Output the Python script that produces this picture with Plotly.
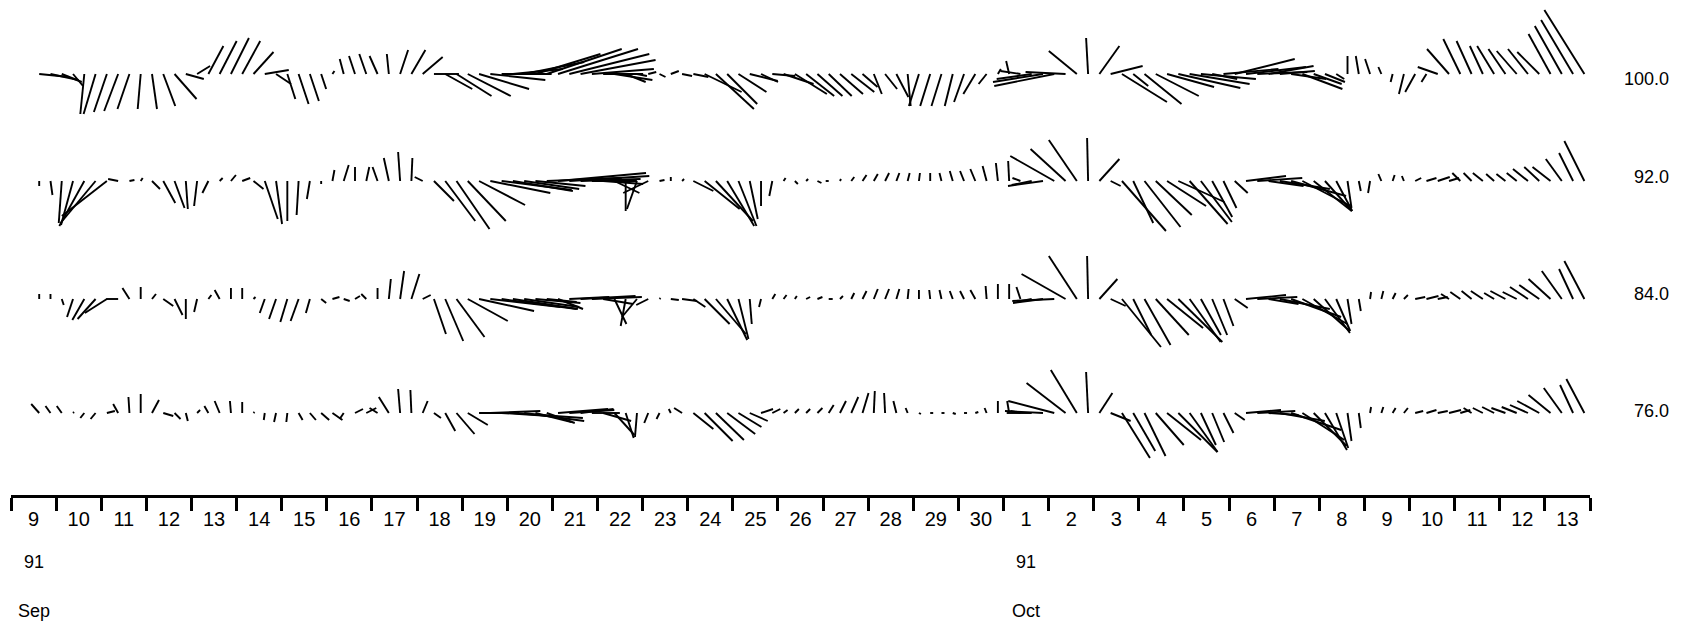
import plotly.graph_objects as go

# ---------------- data ----------------
# 6-hourly current sticks, 1991-09-09 03:00 .. 1991-10-13 21:00 (140 samples)
# u = east component, v = north component (cm/s); None = no record
depths = ["100.0", "92.0", "84.0", "76.0"]
sep_days = list(range(9, 31))
oct_days = list(range(1, 14))
day_labels = [str(d) for d in sep_days] + [str(d) for d in oct_days]
year_label = "91"
month_labels = ["Sep", "Oct"]

u100 = [None, None, 30, 28, 20, 10, -4, -12, -13, -14, -12, -3, 5, 12, 22, 18, 13, 15, 17, 18,
        18, 20, 24, 15, 8, 10, 9, 5, 2, -4, -6, -7, -8, -2, 8, 14, 20, 25, 27, 35,
        43, 50, 55, 50, 50, 60, 65, 75, 80, 80, 75, 62, 40, 38, 20, 10, 8, 6, 8, 10,
        15, 37, 38, 30, 28, 28, 17, 23, 30, 32, 28, 25, 23, 23, 23, 15, 8, 12, 12, 3,
        -10, -10, -10, -8, -10, -12, -8, 3, -3, -20, -35, -50, -60, -40, -28, -2, 20, 32, 45, 15,
        37, 43, 47, 62, 60, 55, 25, 55, 60, 60, 50, 45, 35, 35, 40, 28, 20, 8, 0, -3,
        -5, -3, -2, -5, -10, -5, -20, -22, -17, -15, -13, -17, -17, -20, -20, -22, -22, -27, -32, -40]
v100 = [None, None, -3, -6, -8, -12, -40, -40, -38, -37, -35, -35, -35, -32, -25, -5, 8, 28, 33, 36,
        33, 22, 4, -10, -25, -30, -27, -15, 3, 15, 18, 20, 18, 20, 24, 24, 17, 0, -15, -22,
        -22, -15, -6, 0, 5, 12, 20, 25, 25, 20, 14, 5, 0, -6, -8, -2, 2, -3, 3, -2,
        -3, -18, -35, -30, -18, -7, -8, -2, -10, -20, -22, -22, -22, -20, -18, -13, -20, -15, -23, -32,
        -32, -32, -32, -32, -28, -20, -10, 5, 13, 3, -5, -8, -12, 2, 23, 36, 28, 8, -28, -12,
        -30, -22, -13, -14, -10, -5, -5, 5, 15, 7, 2, 8, 3, -5, -15, -10, -8, -5, 18, 18,
        15, 7, -8, -20, -18, -8, 7, 25, 35, 33, 28, 28, 25, 23, 25, 22, 40, 48, 54, 64]

u92 = [None, None, 0, 2, -3, -12, -25, -35, -45, -10, 5, 2, 8, 12, 10, 2, -3, -6, 3, 5,
       8, 10, 13, 6, 0, -2, -3, 0, 2, 5, 0, 3, -5, -5, -2, 1, -8, 20, 30, 33,
       38, 46, 60, 70, 60, 55, 50, 75, 88, 80, 60, 45, 40, 25, 0, -10, -25, 5, 0, 2,
       20, 35, 37, 27, 18, 8, 0, -3, 2, 3, 2, 4, -3, 1, 3, 4, 4, 4, 3, 2,
       1, 0, -2, -3, -4, -5, -4, -2, -1, -8, -20, -35, -44, -35, -28, -1, 20, 10, 44, 20,
       36, 36, 39, 46, 38, 31, 20, 13, 13, 40, 45, 35, 50, 55, 48, 38, 27, 16, 4, 2,
       -2, -3, 2, -2, 6, 10, 12, 10, -8, -8, -10, -8, -9, -10, -15, -15, -18, -16, -14, -20]
v92 = [None, None, -5, -14, -42, -44, -45, -42, -35, 2, 1, 3, -8, -22, -27, -28, -25, -12, 3, 6,
       3, -8, -38, -43, -40, -34, -18, -3, 11, 16, 14, 14, 14, 23, 29, 23, 4, -20, -40, -48,
       -40, -24, -12, -9, -10, -8, -5, 3, 8, 5, 2, 0, -3, -12, -30, -28, -12, 1, 4, 2,
       -10, -28, -40, -45, -45, -38, -25, -15, 3, -3, 2, -2, 0, 2, 4, 6, 7, 8, 8, 8,
       8, 8, 8, 10, 10, 12, 15, 18, 20, 3, -4, -5, 25, 32, 41, 43, 22, -5, -50, -42,
       -46, -34, -25, -21, -43, -41, -36, -27, -12, 5, 3, -5, -8, -15, -25, -30, -30, -30, -27, -10,
       -12, 7, 6, 5, 3, 3, 4, 3, 8, 8, 8, 7, 7, 8, 12, 14, 14, 22, 28, 40]

u84 = [None, None, 0, 0, 2, -6, -12, -18, -22, -12, -7, 0, 4, 10, 8, 0, -3, 3, -5, 0,
       0, 2, -5, -7, -7, -8, -4, 5, 7, 6, 5, -5, 0, 2, 4, 8, 8, 12, 18, 28,
       40, 55, 70, 75, 65, 55, 45, 30, 25, 40, 55, 50, 30, 12, -5, -15, -12, 1, 8, 15,
       12, 25, 30, 20, 10, 2, -2, 3, 3, 2, 4, 5, 4, 3, 3, 4, 4, 4, 3, 1,
       0, -1, -2, -3, -4, -5, -1, 0, 0, -4, -15, -30, -42, -44, -28, -1, 18, 15, 39, 18,
       26, 33, 36, 44, 31, 20, 15, 10, 13, 40, 40, 30, 50, 50, 45, 36, 25, 14, 4, 2,
       1, 2, 3, 4, 10, 12, 10, -8, -10, -10, -12, -10, -15, -14, -18, -20, -22, -20, -14, -20]
v84 = [None, None, 5, 5, -6, -18, -21, -20, -14, 0, 11, 12, 5, -7, -16, -20, -13, 4, 9, 11,
       11, 2, -14, -20, -23, -22, -14, -4, 2, -2, 3, 5, 11, 20, 28, 25, 4, -35, -42, -38,
       -22, -12, -8, -10, -10, -8, -4, -3, -10, 2, 3, 2, -5, -25, -27, -18, -6, 1, -1, -2,
       -8, -25, -35, -41, -40, -25, -8, 5, 4, 3, 2, 2, 0, 3, 6, 8, 10, 10, 10, 10,
       9, 9, 9, 8, 8, 9, 13, 15, 15, 12, -3, -4, -2, 25, 43, 43, 20, -7, -48, -36,
       -46, -36, -29, -43, -43, -36, -36, -27, -9, 4, 2, -5, -10, -18, -25, -32, -34, -32, -25, -12,
       7, 8, 6, 4, 2, 3, 2, 5, 7, 8, 8, 6, 8, 7, 12, 14, 20, 28, 30, 38]

u76 = [None, None, -8, -5, -5, 1, -4, -5, 8, -5, -1, 0, 7, 10, 6, 2, 3, -4, -5, -1,
       0, 1, -1, -2, -1, 4, 6, 8, 10, -4, 8, 10, -8, -10, -2, -1, 5, 7, 10, 18,
       20, 40, 50, 48, 70, 60, 36, 28, 50, 45, 33, 28, 28, 20, 8, -2, -4, -3, -2, -8,
       20, 28, 28, 28, 23, 18, 12, 8, 4, 4, 4, 5, 5, 6, 7, 6, 1, -1, -3, -2,
       2, 3, 3, 3, 3, 3, -2, 0, -2, -10, -25, -38, -46, -39, -26, -2, 13, 20, 28, 22,
       21, 28, 34, 39, 28, 15, 12, 10, 10, 35, 38, 30, 45, 50, 42, 33, 22, 12, 4, 2,
       1, 2, 3, 4, 8, 10, 10, 12, 10, -8, -10, -12, -14, -15, -18, -22, -22, -18, -13, -18]
v76 = [None, None, 9, 7, 7, 1, -5, -6, 2, 9, 16, 19, 13, -3, -6, -8, 3, 7, 12, 12,
       11, 1, -7, -9, -9, -7, -7, -7, -7, -6, 4, 5, 5, 16, 24, 23, 12, -5, -18, -21,
       -12, 0, 2, -3, -5, -8, -9, -10, 4, 3, 4, 0, -8, -22, -25, -24, -10, -6, 4, 5,
       -16, -28, -27, -21, -14, -8, 4, 4, 3, 4, 4, 5, 8, 12, 16, 20, 22, 20, 12, 5,
       -1, 0, 0, -1, 0, 1, 5, 12, 12, 2, 0, 2, 12, 30, 43, 41, 20, -8, -45, -38,
       -43, -32, -27, -39, -39, -32, -29, -20, -7, 3, 2, -2, -8, -17, -27, -33, -37, -35, -28, -15,
       6, 6, 5, 5, 2, 3, 2, 3, 3, 5, 5, 6, 5, 6, 8, 12, 18, 25, 28, 34]

series = [(u100, v100), (u92, v92), (u84, v84), (u76, v76)]

# ---------------- layout constants ----------------
W, H = 1696, 627
ML, MR, MT, MB = 11, 106, 0, 132
PLOT_W = W - ML - MR
PLOT_H = H - MT - MB
N_DAYS = len(day_labels)
PX_PER_DAY = PLOT_W / N_DAYS
PX_PER_UNIT = 1.0                      # stick length scale (px per cm/s)
ROW_Y = [421, 314, 196, 82]            # baselines (y axis in pixel units)
LABEL_Y = [416, 318, 201, 84]          # depth label positions

times = [0.125 + 0.25 * i for i in range(len(u100))]

fig = go.Figure()
for (u, v), base in zip(series, ROW_Y):
    xs, ys = [], []
    for t, uu, vv in zip(times, u, v):
        if uu is None or vv is None:
            continue
        xs += [t, t + uu * PX_PER_UNIT / PX_PER_DAY, None]
        ys += [base, base + vv * PX_PER_UNIT, None]
    fig.add_trace(go.Scatter(x=xs, y=ys, mode="lines",
                             line=dict(color="black", width=1.9),
                             hoverinfo="skip", showlegend=False, cliponaxis=False))

FONT = "Liberation Sans, Arial, Helvetica, sans-serif"

for lab, ly in zip(depths, LABEL_Y):
    fig.add_annotation(x=1, xref="paper", xanchor="right", xshift=81,
                       y=ly, yref="y", yanchor="middle",
                       text=lab, showarrow=False,
                       font=dict(family=FONT, size=18, color="black"))

month_pos = [0.5, len(sep_days) + 0.5]
for mx, mlab in zip(month_pos, month_labels):
    fig.add_annotation(x=mx, xref="x", y=(PLOT_H - 562) / PLOT_H, yref="paper",
                       yanchor="middle", text=year_label, showarrow=False,
                       font=dict(family=FONT, size=18, color="black"))
    fig.add_annotation(x=mx, xref="x", y=(PLOT_H - 611) / PLOT_H, yref="paper",
                       yanchor="middle", text=mlab, showarrow=False,
                       font=dict(family=FONT, size=18, color="black"))

fig.update_layout(
    width=W, height=H,
    margin=dict(l=ML, r=MR, t=MT, b=MB, autoexpand=False),
    paper_bgcolor="white", plot_bgcolor="white",
    xaxis=dict(range=[0, N_DAYS], showgrid=False, zeroline=False, automargin=False,
               showline=True, linewidth=3, linecolor="black",
               tickmode="array",
               tickvals=[i + 0.5 for i in range(N_DAYS)],
               ticktext=day_labels, ticks="", ticklabelstandoff=4,
               tickfont=dict(family=FONT, size=20, color="black"),
               minor=dict(tickmode="array", tickvals=list(range(N_DAYS + 1)),
                          ticks="outside", ticklen=13, tickwidth=3,
                          tickcolor="black", showgrid=False)),
    yaxis=dict(range=[0, PLOT_H], visible=False, showgrid=False, zeroline=False,
               automargin=False),
)

fig.write_html("out.html", config={"displayModeBar": False, "staticPlot": True},
               post_script="document.body.style.margin='0';"
                           "document.body.style.overflow='hidden';")
